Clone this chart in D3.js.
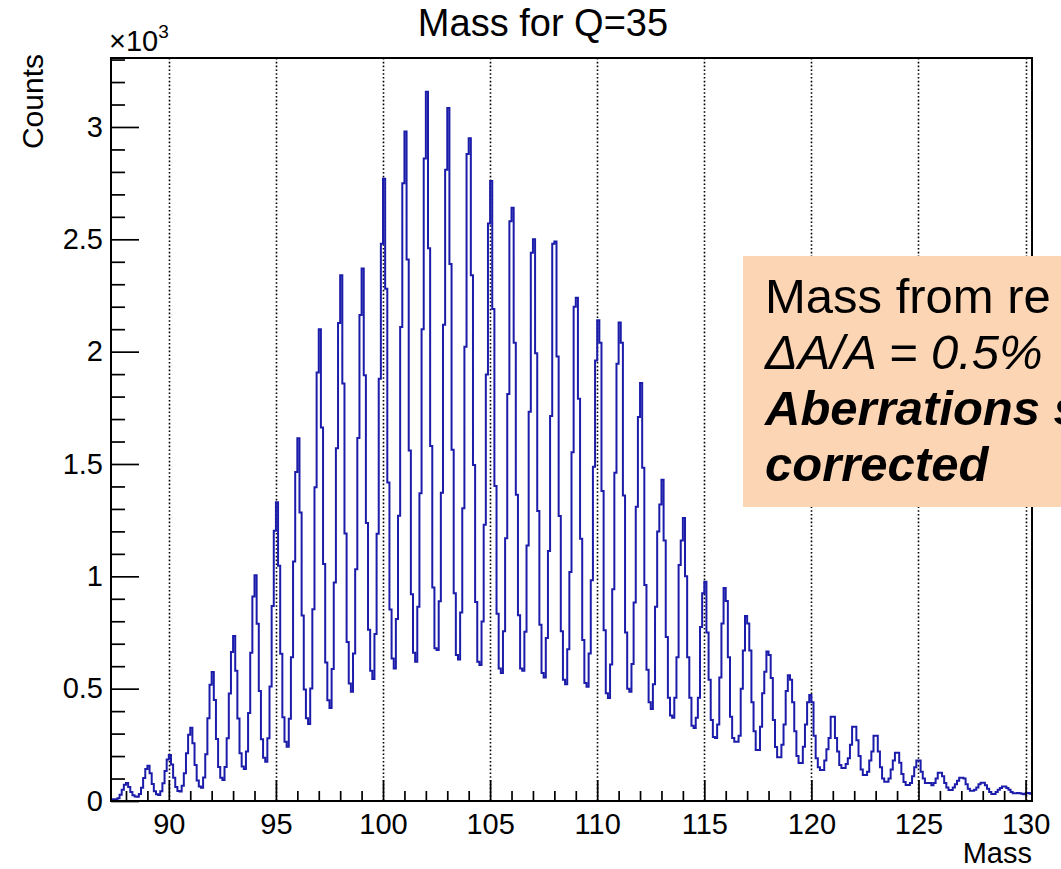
<!DOCTYPE html>
<html>
<head>
<meta charset="utf-8">
<script src="https://cdn.jsdelivr.net/npm/d3@7"></script>
<style>
  html, body { margin: 0; padding: 0; background: #ffffff; }
  svg { display: block; }
</style>
</head>
<body>
<svg id="chart" width="1061" height="869"></svg>
<script>
// Histogram binning
const binStart = 87.3;
const binWidth = 0.1;

// Counts per bin; one row per unit of mass, bins from m-0.5 up to m+0.4
const counts = [
  8, 8,                                                   // 87.3 - 87.5
  8, 12, 28, 50, 72, 80, 62, 40, 26, 20,                  // 88
  19, 31, 59, 102, 142, 157, 123, 76, 43, 30,             // 89
  27, 43, 79, 134, 185, 205, 163, 104, 62, 45,            // 90
  42, 68, 124, 212, 295, 326, 257, 160, 91, 64,           // 91
  59, 105, 208, 368, 517, 574, 449, 276, 151, 103,        // 92
  93, 151, 279, 478, 663, 734, 580, 367, 213, 154,        // 93
  142, 220, 392, 660, 910, 1005, 789, 490, 275, 192,      // 94
  175, 279, 510, 868, 1203, 1330, 1047, 655, 373, 264,    // 95
  242, 366, 640, 1066, 1464, 1615, 1284, 826, 496, 368,   // 96
  343, 501, 853, 1397, 1907, 2100, 1662, 1055, 616, 448,  // 97
  414, 587, 973, 1570, 2128, 2340, 1858, 1191, 708, 523,  // 98
  486, 656, 1032, 1616, 2163, 2370, 1895, 1237, 762, 580, // 99
  543, 743, 1189, 1879, 2480, 2770, 2280, 1418, 852, 634, // 100
  590, 810, 1270, 2110, 2750, 2980, 2410, 1560, 920, 660, // 101
  620, 865, 1370, 2100, 2860, 3157, 2460, 1580, 950, 680, // 102
  672, 889, 1372, 2120, 2810, 3085, 2390, 1563, 925, 650, // 103
  630, 839, 1303, 2022, 2880, 2950, 2340, 1496, 886, 620, // 104
  605, 799, 1230, 1898, 2570, 2760, 2190, 1402, 833, 590, // 105
  570, 756, 1170, 1812, 2580, 2640, 2040, 1363, 827, 590, // 106
  580, 753, 1137, 1732, 2440, 2500, 1993, 1291, 784, 570, // 107
  550, 725, 1113, 1714, 2480, 2490, 1978, 1269, 756, 540, // 108
  520, 675, 1019, 1552, 2200, 2240, 1790, 1167, 717, 525, // 109
  509, 656, 982, 1488, 1961, 2140, 2040, 1380, 760, 480,  // 110
  458, 608, 943, 1461, 1946, 2130, 2040, 1360, 750, 500,  // 111
  486, 610, 884, 1310, 1709, 1860, 1483, 961, 584, 440,   // 112
  410, 520, 865, 1200, 1320, 1430, 1160, 730, 460, 380,   // 113
  370, 460, 640, 1050, 1160, 1260, 1000, 640, 460, 335,   // 114
  325, 370, 460, 775, 925, 976, 750, 540, 360, 285,       // 115
  280, 340, 550, 790, 948, 890, 640, 375, 280, 264,       // 116
  264, 290, 500, 670, 823, 790, 670, 440, 310, 227,       // 117
  227, 330, 480, 575, 665, 650, 547, 360, 240, 195,       // 118
  195, 250, 340, 490, 560, 540, 440, 310, 200, 169,       // 119
  169, 242, 340, 440, 472, 440, 290, 190, 150, 138,       // 120
  138, 180, 230, 280, 375, 375, 280, 220, 160, 147,       // 121
  147, 165, 190, 250, 330, 330, 270, 200, 140, 116,       // 122
  116, 130, 180, 220, 290, 290, 220, 150, 100, 86,        // 123
  86, 100, 140, 180, 215, 215, 170, 120, 85, 71,          // 124
  71, 80, 110, 150, 180, 180, 130, 100, 80, 80,           // 125
  80, 70, 80, 100, 126, 126, 110, 80, 60, 49,             // 126
  49, 60, 75, 90, 104, 104, 100, 75, 55, 46,              // 127
  46, 50, 60, 75, 81, 81, 70, 55, 40, 31,                 // 128
  31, 40, 50, 58, 64, 64, 58, 50, 40, 35,                 // 129
  34, 36, 34, 32, 30, 34, 36, 32                          // 129.5 - 130.3
];

// Axis ranges and ticks
const xRange = [87.3, 130.3];
const yRange = [0, 3307];
const xMajorTicks = [90, 95, 100, 105, 110, 115, 120, 125, 130];
const yMajorTicks = [0, 500, 1000, 1500, 2000, 2500, 3000];
const yTickLabels = ["0", "0.5", "1", "1.5", "2", "2.5", "3"];

// Text
const titleText = "Mass for Q=35";
const xTitle = "Mass";
const yTitle = "Counts";
const noteLines = [
  { text: "Mass from re", weight: "normal", style: "normal" },
  { text: "\u0394A/A = 0.5%", weight: "normal", style: "italic" },
  { text: "Aberrations s", weight: "bold", style: "italic" },
  { text: "corrected", weight: "bold", style: "italic" }
];

const FONT = "'Liberation Sans', Arial, Helvetica, sans-serif";
const frame = { left: 111, top: 58, right: 1032, bottom: 801 };

const svg = d3.select("#chart");
svg.append("rect").attr("width", 1061).attr("height", 869).attr("fill", "#ffffff");

const x = d3.scaleLinear().domain(xRange).range([frame.left, frame.right]);
const y = d3.scaleLinear().domain(yRange).range([frame.bottom, frame.top]);

// dotted vertical grid at major x ticks
svg.append("g")
  .selectAll("line")
  .data(xMajorTicks)
  .join("line")
  .attr("x1", d => Math.round(x(d)) + 0.5)
  .attr("x2", d => Math.round(x(d)) + 0.5)
  .attr("y1", frame.top)
  .attr("y2", frame.bottom)
  .attr("stroke", "#000")
  .attr("stroke-width", 1.6)
  .attr("stroke-dasharray", "1.6,2.2");

// histogram outline drawn as steps
const bins = counts.map((c, i) => ({ lo: binStart + i * binWidth, c }));
const stepPts = bins.map(b => [b.lo, b.c]);
stepPts.push([binStart + counts.length * binWidth, counts[counts.length - 1]]);

const line = d3.line()
  .x(d => x(d[0]))
  .y(d => y(d[1]))
  .curve(d3.curveStepAfter);

svg.append("path")
  .datum(stepPts)
  .attr("d", line)
  .attr("fill", "none")
  .attr("stroke", "#1c1caa")
  .attr("stroke-width", 2)
  .attr("stroke-linejoin", "miter");

// x axis: minor ticks every unit, major every 5
const xMinor = d3.range(88, 131).filter(v => !xMajorTicks.includes(v));
const gxMinor = svg.append("g")
  .attr("transform", `translate(0,${frame.bottom})`)
  .call(d3.axisBottom(x).tickValues(xMinor).tickSize(-10).tickFormat(""));
const gx = svg.append("g")
  .attr("transform", `translate(0,${frame.bottom})`)
  .call(d3.axisBottom(x).tickValues(xMajorTicks).tickSize(-21).tickPadding(12));

// y axis: minor every 100, major every 500
const yMinor = d3.range(100, 3301, 100).filter(v => !yMajorTicks.includes(v));
const gyMinor = svg.append("g")
  .attr("transform", `translate(${frame.left},0)`)
  .call(d3.axisLeft(y).tickValues(yMinor).tickSize(-14).tickFormat(""));
const gy = svg.append("g")
  .attr("transform", `translate(${frame.left},0)`)
  .call(d3.axisLeft(y).tickValues(yMajorTicks).tickSize(-28).tickPadding(8)
    .tickFormat((d, i) => yTickLabels[i]));

[gxMinor, gx, gyMinor, gy].forEach(g => {
  g.select(".domain").remove();
  g.selectAll(".tick line").attr("stroke", "#000").attr("stroke-width", 1.7);
  g.selectAll(".tick text")
    .attr("fill", "#000")
    .style("font-family", FONT)
    .style("font-size", "29px");
});

// frame
svg.append("rect")
  .attr("x", frame.left)
  .attr("y", frame.top)
  .attr("width", frame.right - frame.left)
  .attr("height", frame.bottom - frame.top)
  .attr("fill", "none")
  .attr("stroke", "#000")
  .attr("stroke-width", 2);

// exponent marker above the y axis
const expo = svg.append("text")
  .attr("x", 109)
  .attr("y", 51)
  .style("font-family", FONT)
  .style("font-size", "29px")
  .attr("fill", "#000");
expo.append("tspan").text("\u00d710");
expo.append("tspan").attr("dy", -13).style("font-size", "19px").text("3");

// title
svg.append("text")
  .attr("x", 543)
  .attr("y", 36)
  .attr("text-anchor", "middle")
  .style("font-family", FONT)
  .style("font-size", "38px")
  .attr("fill", "#000")
  .text(titleText);

// axis titles
svg.append("text")
  .attr("x", frame.right)
  .attr("y", 863)
  .attr("text-anchor", "end")
  .style("font-family", FONT)
  .style("font-size", "29px")
  .attr("fill", "#000")
  .text(xTitle);

svg.append("text")
  .attr("transform", "translate(43,54) rotate(-90)")
  .attr("text-anchor", "end")
  .style("font-family", FONT)
  .style("font-size", "30px")
  .attr("fill", "#000")
  .text(yTitle);

// annotation box
const note = svg.append("g");
note.append("rect")
  .attr("x", 743)
  .attr("y", 256)
  .attr("width", 330)
  .attr("height", 251)
  .attr("fill", "#fcd5b4");

note.selectAll("text")
  .data(noteLines)
  .join("text")
  .attr("x", 765)
  .attr("y", (d, i) => 313 + i * 56)
  .style("font-family", FONT)
  .style("font-size", "49px")
  .style("font-weight", d => d.weight)
  .style("font-style", d => d.style)
  .attr("fill", "#000")
  .text(d => d.text);
</script>
</body>
</html>
